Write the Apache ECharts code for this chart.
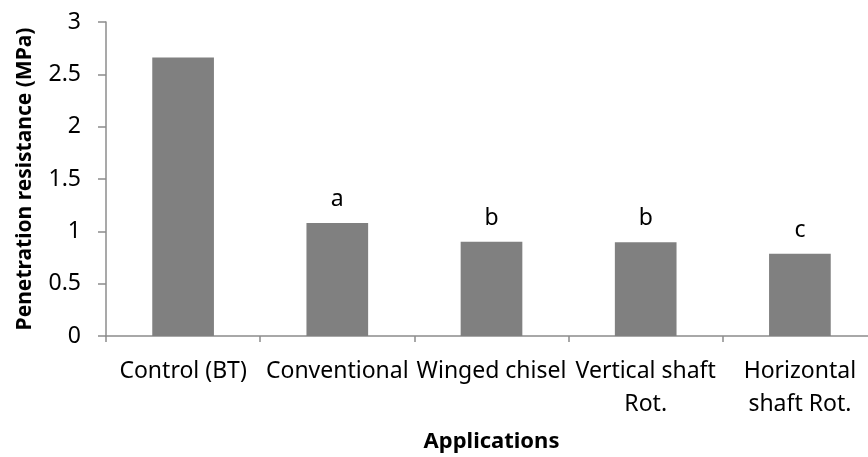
<!DOCTYPE html>
<html>
<head>
<meta charset="utf-8">
<script src="https://cdn.jsdelivr.net/npm/echarts@6/dist/echarts.min.js"></script>
<style>
  html, body { margin: 0; padding: 0; background: #fff; }
  #main { width: 868px; height: 457px; }
</style>
</head>
<body>
<div id="main"></div>
<script>
// data
const categories = ["Control (BT)", "Conventional", "Winged chisel", "Vertical shaft\nRot.", "Horizontal\nshaft Rot."];
const resistance = [2.66, 1.08, 0.9, 0.895, 0.786];
const letters = ["", "a", "b", "b", "c"];
const yTicks = { min: 0, max: 3, interval: 0.5 };

const font = "Noto Sans";
const axisGrey = "#8c8c8c";

const myChart = echarts.init(document.getElementById("main"), null, { renderer: "canvas" });

myChart.setOption({
  backgroundColor: "#fff",
  animation: false,
  grid: {
    left: 106,
    top: 22,
    width: 771,
    height: 314,
    containLabel: false,
    outerBoundsMode: "none",
  },
  xAxis: {
    type: "category",
    data: categories,
    name: "Applications",
    nameLocation: "middle",
    nameGap: 95,
    nameTextStyle: { fontFamily: font, fontSize: 22, fontWeight: "bold", color: "#000" },
    axisLine: { lineStyle: { color: axisGrey, width: 1.5 } },
    axisTick: { show: true, length: 6, lineStyle: { color: axisGrey, width: 1.5 } },
    axisLabel: {
      interval: 0,
      margin: 19,
      fontFamily: font,
      fontSize: 23,
      lineHeight: 33,
      color: "#000",
      align: "center",
    },
  },
  yAxis: {
    type: "value",
    min: yTicks.min,
    max: yTicks.max,
    interval: yTicks.interval,
    name: "Penetration resistance (MPa)",
    nameLocation: "middle",
    nameGap: 70,
    nameTextStyle: { fontFamily: font, fontSize: 21, fontWeight: "bold", color: "#000" },
    splitLine: { show: false },
    axisLine: { show: true, lineStyle: { color: axisGrey, width: 1.5 } },
    axisTick: { show: true, length: 8, lineStyle: { color: axisGrey, width: 1.5 } },
    axisLabel: { margin: 25, fontFamily: font, fontSize: 23, color: "#000" },
  },
  series: [
    {
      type: "bar",
      data: resistance,
      barWidth: "40%",
      itemStyle: { color: "#808080" },
      label: {
        show: true,
        position: "top",
        distance: 12,
        fontFamily: font,
        fontSize: 23,
        color: "#000",
        formatter: (p) => letters[p.dataIndex],
      },
    },
  ],
});
</script>
</body>
</html>
